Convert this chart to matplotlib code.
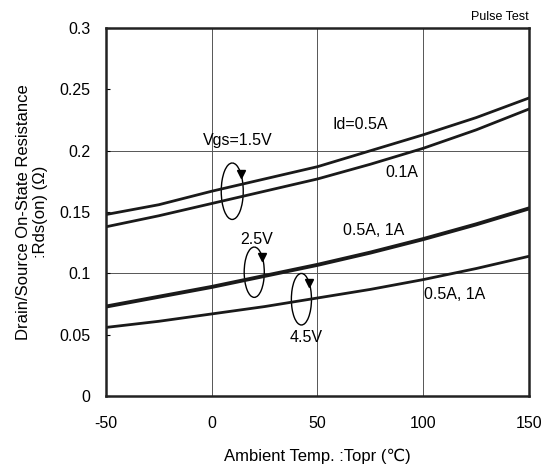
#!/usr/bin/env python3
# rds_on_vs_temp.py

import matplotlib.pyplot as plt
import numpy as np
from matplotlib.patches import Arc

plt.rcParams["font.family"] = ["Liberation Sans", "DejaVu Sans"]

# values
temp = [-50, -25, 0, 25, 50, 75, 100, 125, 150]
r_15_05 = [0.148, 0.156, 0.167, 0.177, 0.187, 0.200, 0.213, 0.227, 0.243]
r_15_01 = [0.138, 0.147, 0.157, 0.167, 0.177, 0.189, 0.202, 0.217, 0.234]
r_25 = [0.073, 0.081, 0.089, 0.098, 0.107, 0.117, 0.128, 0.140, 0.153]
r_45 = [0.056, 0.061, 0.067, 0.073, 0.080, 0.087, 0.095, 0.104, 0.114]

x_ticks = [-50, 0, 50, 100, 150]
y_ticks = [0, 0.05, 0.1, 0.15, 0.2, 0.25, 0.3]
y_tick_labels = ["0", "0.05", "0.1", "0.15", "0.2", "0.25", "0.3"]


def loop_arrow(ax, xc, yc, w, h):
    # open ellipse with an arrowhead on the right, pointing down
    ax.add_patch(Arc((xc, yc), w, h, theta1=62, theta2=392, color="black", lw=1.0))
    t = np.radians(38)
    ax.plot(xc + w / 2 * np.cos(t), yc + h / 2 * np.sin(t), marker="v",
            color="black", markersize=6)


def plot(ax):
    ax.set_xlim(-50, 150)
    ax.set_ylim(0, 0.3)
    for xv in [0, 50, 100]:
        ax.axvline(xv, color="#555555", lw=0.7, zorder=1)
    for yv in [0.1, 0.2]:
        ax.axhline(yv, color="#555555", lw=0.7, zorder=1)

    ax.plot(temp, r_15_05, color="#1a1a1a", lw=2.0)
    ax.plot(temp, r_15_01, color="#1a1a1a", lw=2.0)
    ax.plot(temp, r_25, color="#1a1a1a", lw=2.8)
    ax.plot(temp, r_45, color="#1a1a1a", lw=2.0)

    fs = 11.5
    ax.text(57, 0.221, "Id=0.5A", fontsize=fs, va="center")
    ax.text(-4, 0.208, "Vgs=1.5V", fontsize=fs, va="center")
    ax.text(82, 0.182, "0.1A", fontsize=fs, va="center")
    ax.text(62, 0.135, "0.5A, 1A", fontsize=fs, va="center")
    ax.text(13.5, 0.128, "2.5V", fontsize=fs, va="center")
    ax.text(100.5, 0.083, "0.5A, 1A", fontsize=fs, va="center")
    ax.text(37, 0.048, "4.5V", fontsize=fs, va="center")

    loop_arrow(ax, 9.7, 0.167, 10.4, 0.046)
    loop_arrow(ax, 20.1, 0.101, 9.5, 0.041)
    loop_arrow(ax, 42.4, 0.079, 9.5, 0.042)

    ax.set_xticks(x_ticks)
    ax.set_xticklabels([str(v) for v in x_ticks])
    ax.set_yticks(y_ticks)
    ax.set_yticklabels(y_tick_labels)
    ax.tick_params(axis="x", length=0, pad=14, labelsize=11.5)
    ax.tick_params(axis="y", direction="in", length=3, pad=11, labelsize=11.5)
    for s in ax.spines.values():
        s.set_linewidth(1.8)
        s.set_color("#222222")

    ax.set_xlabel("Ambient Temp. :Topr (℃)", fontsize=12, labelpad=13)
    ax.set_ylabel("Drain/Source On-State Resistance\n:Rds(on) (Ω)", fontsize=12,
                  labelpad=8)
    ax.text(1.0, 1.015, "Pulse Test", transform=ax.transAxes, ha="right",
            va="bottom", fontsize=9)


def main():
    fig = plt.figure(figsize=(5.46, 4.75), dpi=100)
    ax = fig.add_axes([0.194, 0.166, 0.775, 0.775])
    plot(ax)
    fig.savefig("out.png", dpi=100)


if __name__ == "__main__":
    main()
